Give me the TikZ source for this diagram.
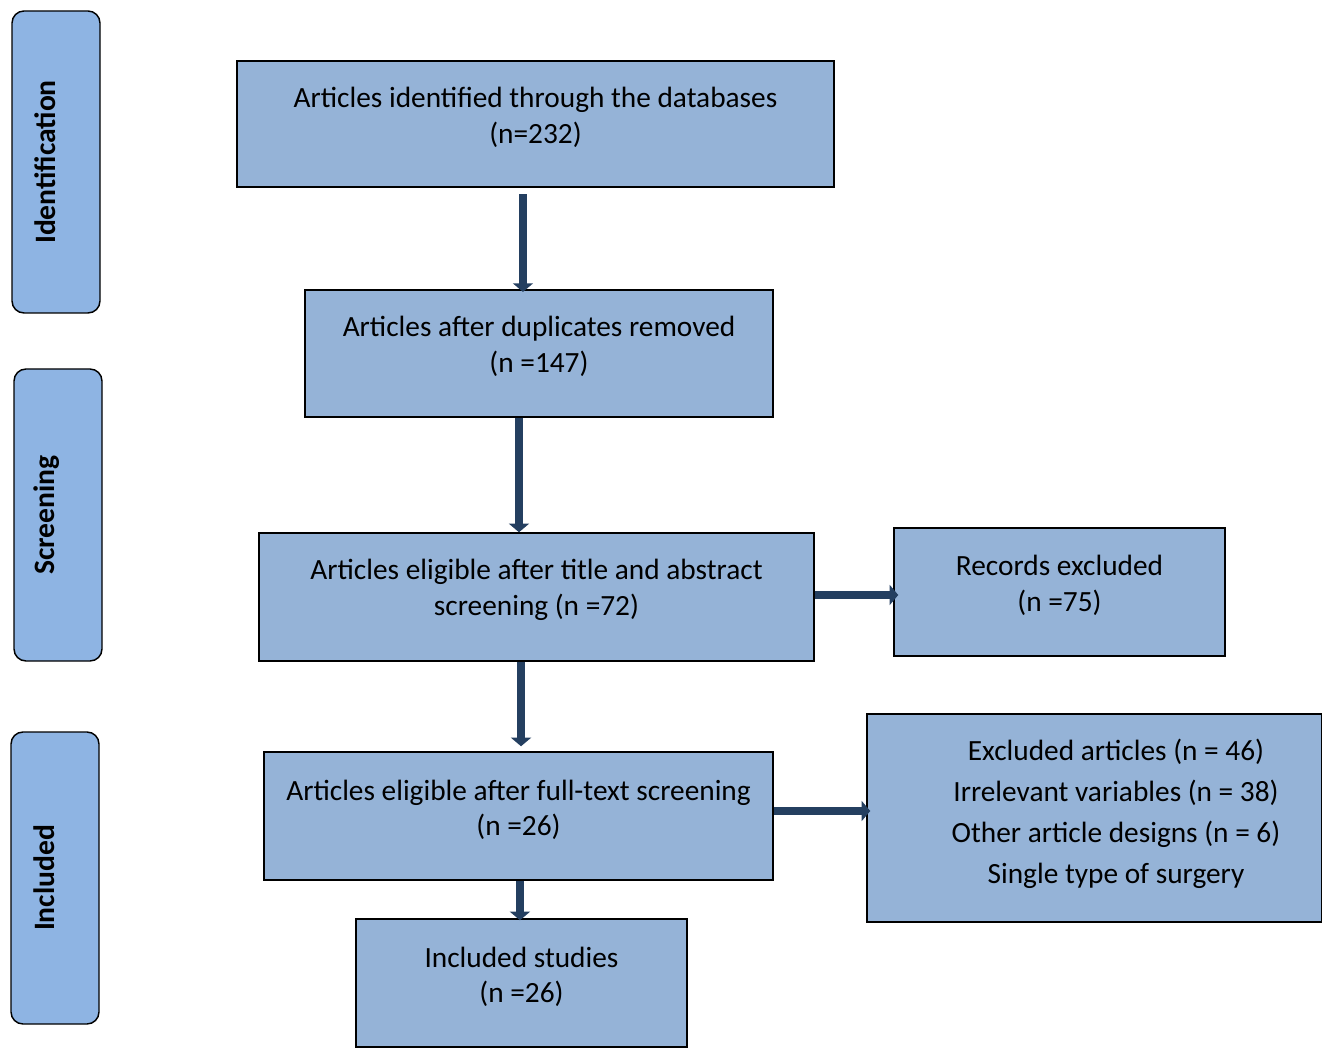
\documentclass[tikz,border=0pt]{standalone}
\usepackage{fontspec}
\setmainfont{Carlito}
\usetikzlibrary{arrows.meta}
\definecolor{boxfill}{HTML}{95B3D7}
\definecolor{sidefill}{HTML}{8EB4E3}
\definecolor{arrowcol}{HTML}{243F60}
\tikzset{
  box/.style={draw=black, line width=1.1pt, fill=boxfill, inner sep=0pt},
  txt/.style={align=center, font=\fontsize{22}{26.6}\selectfont, inner sep=0pt},
  side/.style={draw=black, line width=1.1pt, fill=sidefill, rounded corners=9pt, inner sep=0pt},
  sidetxt/.style={rotate=90, font=\fontsize{22.2}{24}\selectfont\bfseries, inner sep=0pt},
  flow/.style={draw=arrowcol, line width=6pt, -{Triangle[width=15pt,length=6.5pt]}},
}
\begin{document}
\begin{tikzpicture}[x=0.75pt,y=-0.75pt]
\useasboundingbox (0,0) rectangle (1322,1048);
% side labels
\node[side, minimum width=66pt, minimum height=226.5pt] (sid) at (56,162) {};
\node[sidetxt] (sidt) at (45,162) {Identification};
\node[side, minimum width=66pt, minimum height=219pt] (sscr) at (58,515) {};
\node[sidetxt] (sscrt) at (47,515) {Screening};
\node[side, minimum width=66pt, minimum height=219pt] (sinc) at (55,878) {};
\node[sidetxt] (sinct) at (44,878) {Included};
% boxes
\node[box, minimum width=447.75pt, minimum height=94.5pt] (b1) at (535.5,124) {};
\node[txt] (t1) at (535.5,117.5) {Articles identified through the databases\\(n=232)};
\node[box, minimum width=351pt, minimum height=95.25pt] (b2) at (539,353.5) {};
\node[txt] (t2) at (539,346.5) {Articles after duplicates removed\\(n =147)};
\node[box, minimum width=416.25pt, minimum height=96pt] (b3) at (536.5,597) {};
\node[txt] (t3) at (536.5,590) {Articles eligible after title and abstract\\screening (n =72)};
\node[box, minimum width=248.25pt, minimum height=96pt] (b4) at (1059.5,592) {};
\node[txt] (t4) at (1059.5,585.5) {Records excluded\\(n =75)};
\node[box, minimum width=381.75pt, minimum height=96pt] (b5) at (518.5,816) {};
\node[txt] (t5) at (518.5,810) {Articles eligible after full-text screening\\(n =26)};
\node[box, minimum width=341.25pt, minimum height=156pt] (b6) at (1094.5,818) {};
\node[align=center, inner sep=0pt, font=\fontsize{22}{30.8}\selectfont] (t6) at (1116,814) {Excluded articles (n = 46)\\Irrelevant variables (n = 38)\\Other article designs (n = 6)\\Single type of surgery};
\node[box, minimum width=248.25pt, minimum height=96pt] (b7) at (521.5,983) {};
\node[txt] (t7) at (521.5,977) {Included studies\\(n =26)};
% anchor points for straight arrows
\coordinate (a1s) at ([xshift=-9.4pt,yshift=-5pt]b1.south);
\coordinate (a2s) at ([xshift=-15pt]b2.south);
\coordinate (a3s) at ([xshift=-11.6pt]b3.south);
\coordinate (a4s) at ([yshift=1.5pt]b3.east);
\coordinate (a5s) at ([yshift=3.75pt]b5.east);
\coordinate (a6s) at ([xshift=1.1pt]b5.south);
% arrows
\draw[flow] (a1s) -- ([yshift=-2pt]a1s |- b2.north);
\draw[flow] (a2s) -- (a2s |- b3.north);
\draw[flow] (a3s) -- ([yshift=3.75pt]a3s |- b5.north);
\draw[flow] (a4s) -- ([xshift=3.75pt]a4s -| b4.west);
\draw[flow] (a5s) -- ([xshift=3pt]a5s -| b6.west);
\draw[flow] (a6s) -- ([yshift=-1.5pt]a6s |- b7.north);
\end{tikzpicture}
\end{document}
